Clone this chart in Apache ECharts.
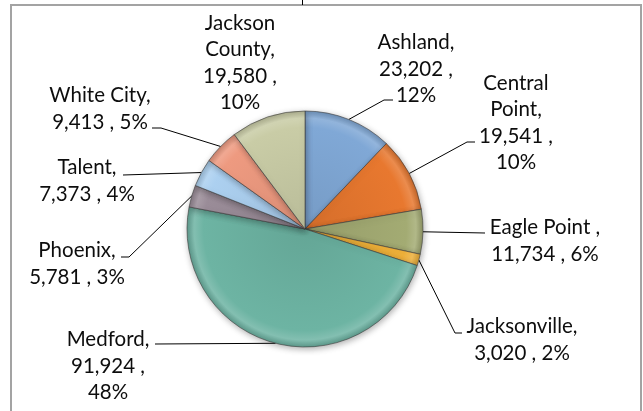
<!DOCTYPE html>
<html>
<head>
<meta charset="utf-8">
<script src="https://cdn.jsdelivr.net/npm/echarts@6/dist/echarts.min.js"></script>
<style>
  html, body { margin: 0; padding: 0; background: #ffffff; }
  #chart { width: 643px; height: 411px; }
</style>
</head>
<body>
<div id="chart"></div>
<script>
// Population by place, Jackson County area
const categories = ['Ashland', 'Central Point', 'Eagle Point ', 'Jacksonville', 'Medford',
                    'Phoenix', 'Talent', 'White City', 'Jackson County'];
const populations = [23202, 19541, 11734, 3020, 91924, 5781, 7373, 9413, 19580];

// Slice fills
const sliceColors = ['#80a8d6', '#e8782f', '#a3ab73', '#f1b23a', '#6db4a3',
                     '#9a8c98', '#acd0f0', '#ee9a80', '#c9cca6'];

// How each label's text wraps: 'split' = one word per line, 'joined' = value and percent share a line
const labelWrap = ['plain', 'split', 'joined', 'joined', 'plain', 'joined', 'joined', 'joined', 'split'];

// Label block centres and the leader-line bends after the slice edge
const labelSpots = [
  { x: 416, y: 69,  bend: [[384, 100], [393, 100]] },
  { x: 516, y: 123, bend: [[467, 142], [475, 142]] },
  { x: 545, y: 241, bend: [[485, 233]] },
  { x: 522, y: 340, bend: [[455, 333], [462, 333]] },
  { x: 108, y: 366, bend: [[155, 344]] },
  { x: 77,  y: 264, bend: [[129, 257], [121, 257]] },
  { x: 87,  y: 181, bend: [[123, 175]] },
  { x: 100, y: 109, bend: [[161, 128], [152, 128]] },
  { x: 240, y: 63,  bend: null }
];

const PIE_CX = 305, PIE_CY = 229, PIE_R = 118;

function shade(hex, amt) {
  const n = parseInt(hex.slice(1), 16);
  let r = (n >> 16) & 255, g = (n >> 8) & 255, b = n & 255;
  const f = c => Math.max(0, Math.min(255, Math.round(amt >= 0 ? c + (255 - c) * amt : c * (1 + amt))));
  return 'rgb(' + f(r) + ',' + f(g) + ',' + f(b) + ')';
}

// Soft bevel: slightly deeper centre, light rim highlight, darker outer edge
function sliceFill(hex) {
  return {
    type: 'radial', x: PIE_CX, y: PIE_CY, r: PIE_R, global: true,
    colorStops: [
      { offset: 0, color: shade(hex, -0.08) },
      { offset: 0.86, color: hex },
      { offset: 0.94, color: shade(hex, 0.15) },
      { offset: 1, color: shade(hex, -0.15) }
    ]
  };
}

const fmt = v => v.toLocaleString('en-US');

const pieData = categories.map((name, i) => ({
  name: name,
  value: populations[i],
  itemStyle: { color: sliceFill(sliceColors[i]) },
  labelLine: { show: labelSpots[i].bend !== null }
}));

const chart = echarts.init(document.getElementById('chart'), null, { renderer: 'canvas' });

chart.setOption({
  backgroundColor: '#ffffff',
  animation: false,
  graphic: [
    {
      type: 'polyline',
      shape: { points: [[11, 411], [11, 5], [641, 5], [641, 411]] },
      style: { stroke: '#a3a3a3', lineWidth: 2, fill: null },
      silent: true
    },
    {
      type: 'line',
      shape: { x1: 302.5, y1: 0, x2: 302.5, y2: 5 },
      style: { stroke: '#000000', lineWidth: 1 },
      silent: true
    }
  ],
  series: [{
    type: 'pie',
    center: [PIE_CX, PIE_CY],
    radius: PIE_R,
    startAngle: 90,
    clockwise: true,
    percentPrecision: 0,
    avoidLabelOverlap: false,
    data: pieData,
    itemStyle: {
      borderColor: 'rgba(60,60,60,0.6)',
      borderWidth: 1,
      shadowBlur: 6,
      shadowOffsetX: 1,
      shadowOffsetY: 2,
      shadowColor: 'rgba(0,0,0,0.3)'
    },
    label: {
      show: true,
      position: 'outside',
      fontFamily: 'Lato',
      fontSize: 20.5,
      lineHeight: 26.5,
      color: '#0d0d0d',
      align: 'center',
      formatter: p => {
        const name = p.name;
        const val = fmt(p.value);
        const pct = p.percent + '%';
        const mode = labelWrap[p.dataIndex];
        if (mode === 'split') {
          const words = name.trim().split(' ');
          words[words.length - 1] += ',';
          return words.concat([val + ' ,', pct]).join('\n');
        }
        if (mode === 'joined') {
          return [name + ',', val + ' , ' + pct].join('\n');
        }
        return [name + ',', val + ' ,', pct].join('\n');
      }
    },
    labelLine: {
      show: true,
      length: 10,
      length2: 10,
      smooth: false,
      lineStyle: { color: '#000000', width: 1 }
    },
    labelLayout: params => {
      const spot = labelSpots[params.dataIndex];
      const out = { x: spot.x, y: spot.y, align: 'center', verticalAlign: 'middle' };
      if (spot.bend && params.labelLinePoints && params.labelLinePoints.length) {
        const edge = params.labelLinePoints[0];
        out.labelLinePoints = [[edge[0], edge[1]]].concat(spot.bend);
      }
      return out;
    }
  }]
});
</script>
</body>
</html>
